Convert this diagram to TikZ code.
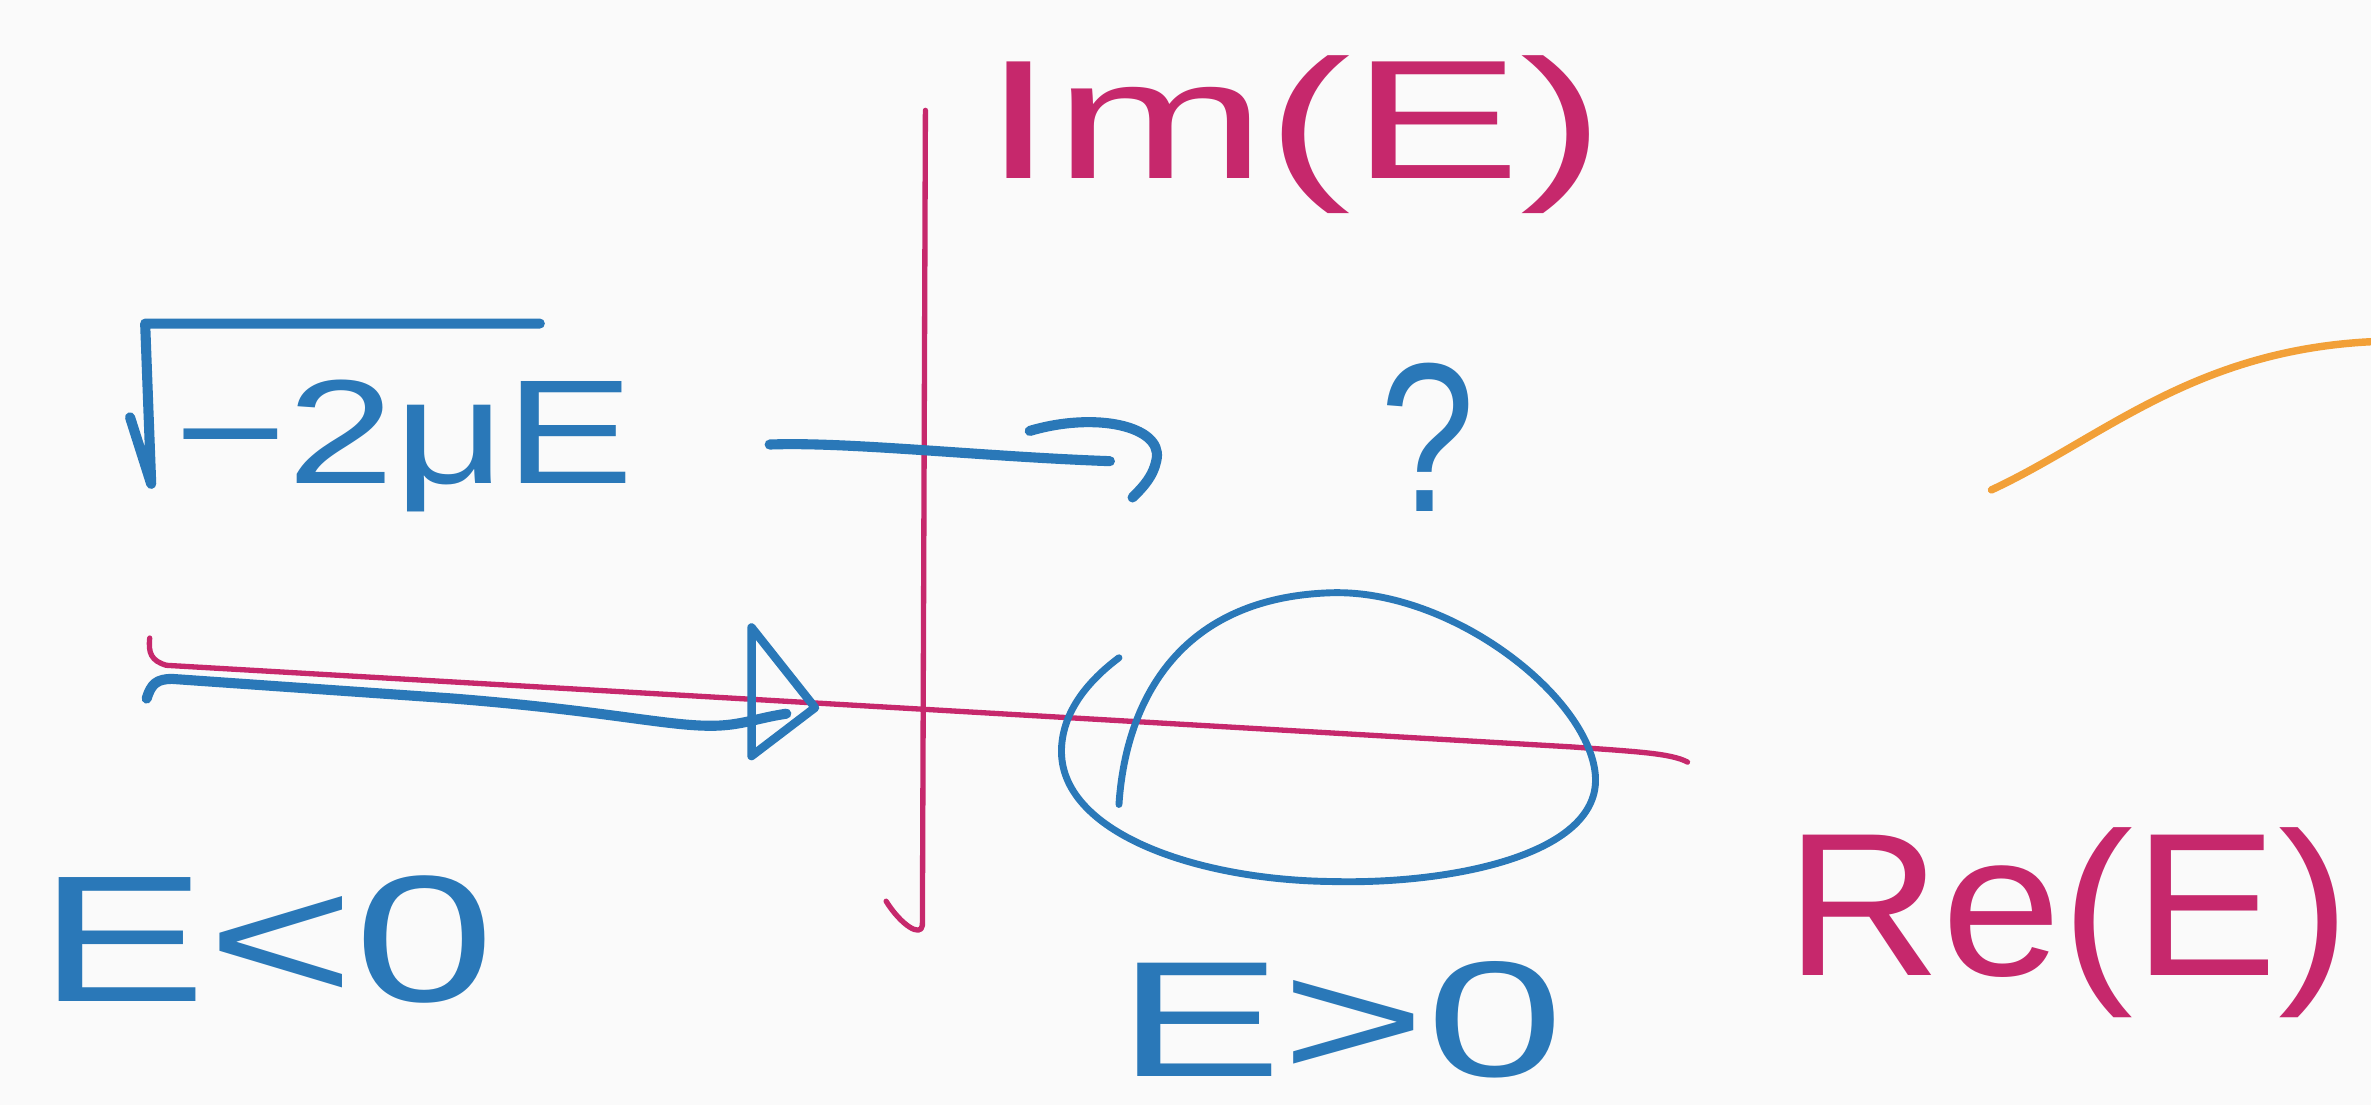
\documentclass[tikz,border=0pt]{standalone}
\usepackage{fontspec}
\setmainfont{Liberation Sans}
\definecolor{inkblue}{HTML}{2A78B8}
\definecolor{inkmag}{HTML}{C6286C}
\definecolor{inkorange}{HTML}{F2A038}
\definecolor{paper}{HTML}{FAFAFA}
\begin{document}
\begin{tikzpicture}[x=0.1mm,y=-0.1mm,
  axis/.style={inkmag,line width=1.0pt,line cap=round,line join=round},
  bluestroke/.style={inkblue,line width=1.9pt,line cap=round,line join=round},
  loopstroke/.style={inkblue,line width=1.3pt,line cap=round,line join=round},
  lbl/.style={inner sep=0pt,anchor=base west}]
\fill[paper] (0,0) rectangle (1568,731);
\useasboundingbox (0,0) rectangle (1568,731);

% axes
\draw[axis] (612,73) -- (610,612) .. controls (609,620) and (596,612) .. (586,596);
\draw[axis] (99,422) .. controls (98,432) and (100,437) .. (110,440) -- (1040,494) .. controls (1080,497) and (1105,498) .. (1116,504);

% lower blue line with hollow arrowhead
\draw[bluestroke] (97,462) .. controls (100,452) and (104,449) .. (114,449) -- (300,462) .. controls (400,470) and (440,480) .. (470,480) .. controls (490,480) and (500,475) .. (520,472);
\draw[bluestroke,line width=1.6pt] (497,415) -- (497,500) -- (539,468) -- cycle;

% upper blue arrow
\draw[bluestroke] (509,294) .. controls (560,292) and (650,302) .. (734,305);
\draw[bluestroke] (681,285) .. controls (725,272) and (768,282) .. (765,303) .. controls (763,315) and (756,322) .. (749,329);

% loop
\draw[loopstroke] (740,532) .. controls (744,470) and (775,395) .. (881,392)
  .. controls (960,390) and (1050,460) .. (1055,512)
  .. controls (1060,565) and (960,585) .. (881,583)
  .. controls (790,582) and (700,550) .. (702,495)
  .. controls (703,470) and (720,450) .. (740,435);

% orange curve
\draw[inkorange,line width=1.4pt,line cap=round] (1317,324) .. controls (1390,290) and (1450,232) .. (1568,226);

% radical
\draw[bluestroke] (86,276) -- (100,320) -- (96,214) -- (357,214);

% labels
\node[lbl,text=inkmag] (im) at (650,118) {\fontsize{31.9}{32}\selectfont\scalebox{1.5}[1]{Im(E)}};
\node[lbl,text=inkblue] (sq) at (115,320) {\fontsize{27.9}{28}\selectfont\scalebox{1.3}[1]{−2μE}};
\node[lbl,text=inkblue] (q) at (912,338) {\fontsize{40}{40}\selectfont\scalebox{0.8}[1]{?}};
\node[lbl,text=inkblue] (neg) at (25,662) {\fontsize{33.9}{34}\selectfont\scalebox{1.4}[1]{E<0}};
\node[lbl,text=inkblue] (pos) at (738,712) {\fontsize{31}{31}\selectfont\scalebox{1.5}[1]{E>0}};
\node[lbl,text=inkmag] (re) at (1180,645) {\fontsize{38.4}{39}\selectfont\scalebox{1.06}[1]{Re(E)}};
\end{tikzpicture}
\end{document}
